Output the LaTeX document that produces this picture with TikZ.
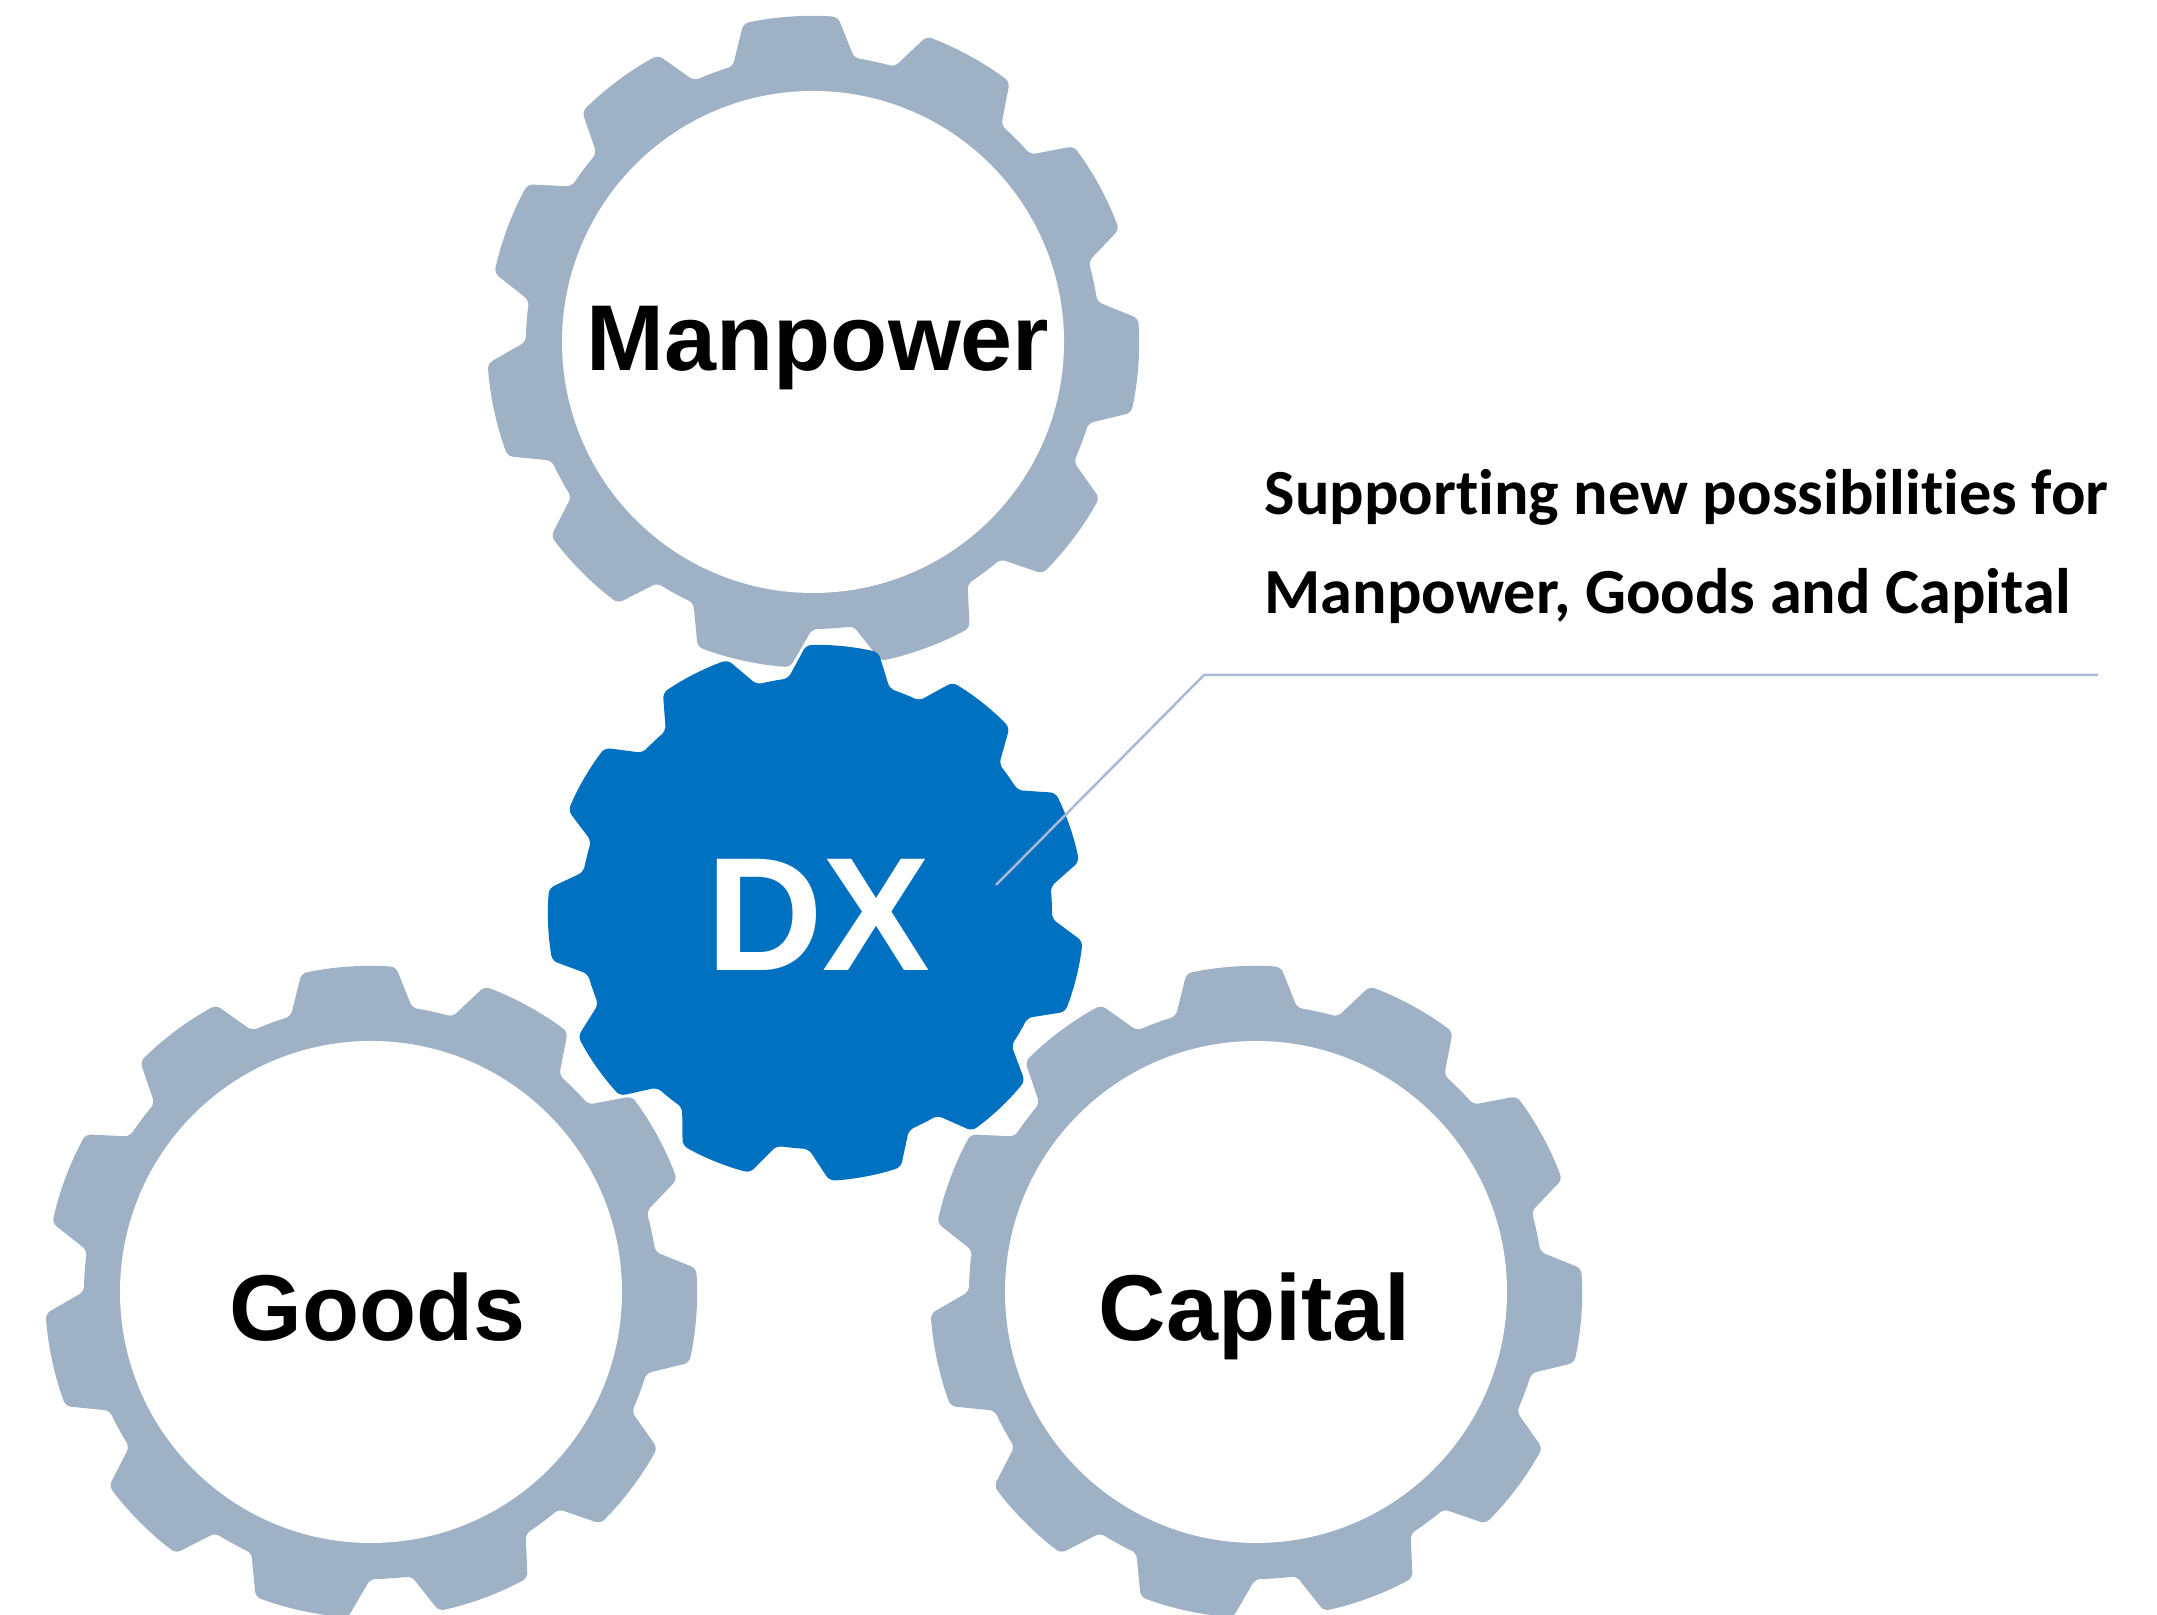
\documentclass[tikz,border=0pt]{standalone}
\usepackage{fontspec}
\setmainfont{Liberation Sans}
\newfontfamily\notefont[Ligatures=NoCommon]{Carlito}
\usetikzlibrary{positioning}
\definecolor{cogblue}{RGB}{0,112,192}
\definecolor{coggrey}{RGB}{158,177,197}
\definecolor{calloutline}{RGB}{168,184,214}

% colour, centre, tip radius, root radius, phase, tip half angle, root half angle
\newcommand{\cog}[7]{%
    \begin{scope}[shift={#2}]
        \fill[#1, rounded corners=1.5pt] ({#5-180/11}:#4)
        \foreach \k in {0,...,10}
        {
            arc[start angle={#5+\k*360/11-180/11}, end angle={#5+\k*360/11-#7}, radius=#4]
            -- ({#5+\k*360/11-#6}:#3) arc[start angle={#5+\k*360/11-#6}, end angle={#5+\k*360/11+#6}, radius=#3]
            -- ({#5+\k*360/11+#7}:#4) arc[start angle={#5+\k*360/11+#7}, end angle={#5+\k*360/11+180/11}, radius=#4]
        };
    \end{scope}}

\begin{document}
\begin{tikzpicture}[
    gearlabel/.style={font=\fontsize{26.6}{26.6}\selectfont\bfseries, inner sep=0pt, anchor=base},
    notetext/.style={font=\notefont\fontsize{18.3}{28.2}\selectfont\bfseries, align=left, inner sep=0pt, anchor=base west}
]

    \useasboundingbox (0,0) rectangle (21.57,16.15);

    % Gear centres
    \coordinate (MP) at (8.13,12.73);
    \coordinate (DXc) at (8.16,7.02);
    \coordinate (GD) at (3.71,3.23);
    \coordinate (CP) at (12.56,3.23);

    % Manpower gear
    \cog{coggrey}{(MP)}{3.26}{2.87}{-4.2}{8.35}{12.25}
    \fill[white] (MP) circle (2.51);
    \node[gearlabel] (manpower) at (8.18,12.44) {Manpower};

    % DX gear
    \cog{cogblue}{(DXc)}{2.68}{2.36}{18.85}{7.8}{12.5}
    \node[gearlabel, font=\fontsize{46}{46}\selectfont\bfseries, text=white] (dx) at (8.185,6.44) {DX};

    % Goods and Capital gears
    \cog{coggrey}{(GD)}{3.26}{2.87}{-4.2}{8.35}{12.25}
    \fill[white] (GD) circle (2.51);
    \node[gearlabel] (goods) at (3.776,2.747) {Goods};

    \cog{coggrey}{(CP)}{3.26}{2.87}{-4.2}{8.35}{12.25}
    \fill[white] (CP) circle (2.51);
    \node[gearlabel] (capital) at (12.545,2.747) {Capital};

    % Callout
    \node[notetext] (note) at (12.64,10.01) {Supporting new possibilities for\\Manpower, Goods and Capital};
    \coordinate (ctip) at (9.96,7.30);
    \coordinate (cbend) at (12.04,9.40);
    \coordinate (cend) at (20.98,9.40);
    \draw[calloutline, line width=0.7pt] (ctip) -- (cbend) -- (cend);

\end{tikzpicture}
\end{document}
